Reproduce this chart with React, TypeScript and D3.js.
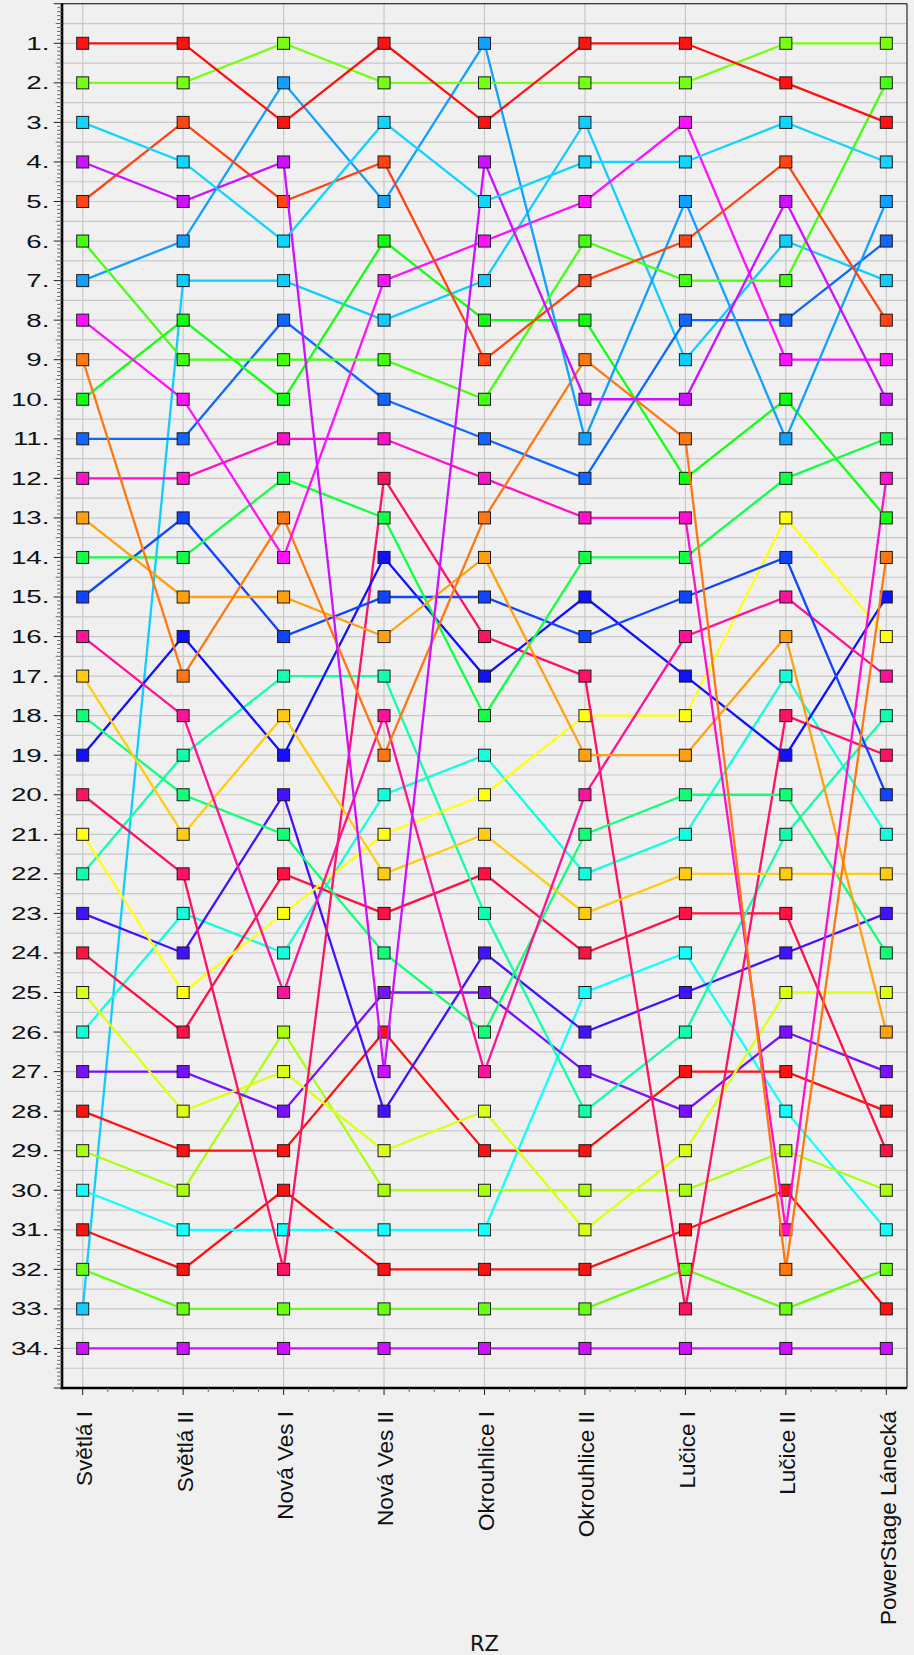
import React from 'react';
import * as d3 from 'd3';

const stages = ['Světlá I', 'Světlá II', 'Nová Ves I', 'Nová Ves II', 'Okrouhlice I', 'Okrouhlice II', 'Lučice I', 'Lučice II', 'PowerStage Lánecká'];

// rank of each crew at every stage (one row per crew)
const ranks: number[][] = [
  [1, 1, 3, 1, 3, 1, 1, 2, 3],
  [2, 2, 1, 2, 2, 2, 2, 1, 1],
  [3, 4, 6, 3, 5, 4, 4, 3, 4],
  [4, 5, 4, 27, 4, 10, 10, 5, 10],
  [5, 3, 5, 4, 9, 7, 6, 4, 8],
  [6, 9, 9, 9, 10, 6, 7, 7, 2],
  [7, 6, 2, 5, 1, 11, 5, 11, 5],
  [8, 10, 14, 7, 6, 5, 3, 9, 9],
  [9, 17, 13, 19, 13, 9, 11, 32, 14],
  [10, 8, 10, 6, 8, 8, 12, 10, 13],
  [11, 11, 8, 10, 11, 12, 8, 8, 6],
  [12, 12, 11, 11, 12, 13, 13, 31, 12],
  [13, 15, 15, 16, 14, 19, 19, 16, 26],
  [14, 14, 12, 13, 18, 14, 14, 12, 11],
  [15, 13, 16, 15, 15, 16, 15, 14, 20],
  [16, 18, 25, 18, 27, 20, 16, 15, 17],
  [17, 21, 18, 22, 21, 23, 22, 22, 22],
  [18, 20, 21, 24, 26, 21, 20, 20, 24],
  [19, 16, 19, 14, 17, 15, 17, 19, 15],
  [20, 22, 32, 12, 16, 17, 33, 18, 19],
  [21, 25, 23, 21, 20, 18, 18, 13, 16],
  [22, 19, 17, 17, 23, 28, 26, 21, 18],
  [23, 24, 20, 28, 24, 26, 25, 24, 23],
  [24, 26, 22, 23, 22, 24, 23, 23, 29],
  [25, 28, 27, 29, 28, 31, 29, 25, 25],
  [26, 23, 24, 20, 19, 22, 21, 17, 21],
  [27, 27, 28, 25, 25, 27, 28, 26, 27],
  [28, 29, 29, 26, 29, 29, 27, 27, 28],
  [29, 30, 26, 30, 30, 30, 30, 29, 30],
  [30, 31, 31, 31, 31, 25, 24, 28, 31],
  [31, 32, 30, 32, 32, 32, 31, 30, 33],
  [32, 33, 33, 33, 33, 33, 32, 33, 32],
  [33, 7, 7, 8, 7, 3, 9, 6, 7],
  [34, 34, 34, 34, 34, 34, 34, 34, 34],
];

const colors = [
  '#ff1111', '#77ff11', '#11d4ff', '#cc11ff', '#ff4411', '#44ff11', '#11a0ff', '#ff11ff',
  '#ff7711', '#11ff11', '#1166ff', '#ff11cc', '#ffa011', '#11ff44', '#1144ff', '#ff1199',
  '#ffcc11', '#11ff77', '#1111ff', '#ff1166', '#ffff11', '#11ffaa', '#4411ff', '#ff1144',
  '#ddff11', '#11ffdd', '#7711ff', '#ff1111', '#aaff11', '#11ffff', '#ff1111', '#66ff11',
  '#11ccff', '#cc11ff',
];

const rankTicks = d3.range(1, 35);
const axisTitle = 'RZ';

export default function App() {
  const W = 914, H = 1655;
  const left = 62, right = 907;
  const x = d3.scalePoint<string>().domain(stages).range([left, right]).padding(0.206);
  const y = d3.scaleLinear().domain([0, 35]).range([3.75, 1388]);
  const top = y(0), bottom = y(35);
  const step = x.step();

  const line = d3.line<number>()
    .x((_, i) => x(stages[i]) as number)
    .y((r) => y(r));

  const halfGrid = d3.range(0.5, 35, 0.5);
  const minorY = d3.range(0, 351).map((v) => v / 10);
  const minorX: number[] = [];
  stages.forEach((s, i) => {
    if (i < stages.length - 1) {
      for (let k = 1; k < 4; k++) minorX.push((x(s) as number) + (step * k) / 4);
    }
  });

  const order = d3.range(ranks.length).reverse();
  const font = '"Liberation Sans", Arial, sans-serif';

  return (
    <svg width={W} height={H} style={{ position: 'absolute', left: 0, top: 0, display: 'block' }}>
      <rect x={0} y={0} width={W} height={H} fill="#f0f0f0" />
      {/* grid */}
      <g stroke="#c8c8c8" strokeWidth={1.2}>
        {halfGrid.map((g) => (
          <line key={'h' + g} x1={left} x2={right} y1={y(g)} y2={y(g)} />
        ))}
        {stages.map((s) => (
          <line key={'v' + s} x1={x(s)} x2={x(s)} y1={top} y2={bottom} />
        ))}
      </g>
      {/* series */}
      {order.map((i) => (
        <g key={'s' + i}>
          <path d={line(ranks[i]) as string} fill="none" stroke={colors[i]} strokeWidth={2.3} />
          {ranks[i].map((r, j) => (
            <rect
              key={j}
              x={(x(stages[j]) as number) - 6}
              y={y(r) - 6}
              width={12}
              height={12}
              fill={colors[i]}
              stroke="#1a1a1a"
              strokeWidth={1}
            />
          ))}
        </g>
      ))}
      {/* frame */}
      <line x1={left} x2={right} y1={top} y2={top} stroke="#000" strokeWidth={1} />
      <line x1={right} x2={right} y1={top} y2={bottom} stroke="#000" strokeWidth={1} />
      <line x1={left} x2={left} y1={top - 0.5} y2={bottom + 1.2} stroke="#000" strokeWidth={2.6} />
      <line x1={left - 1.3} x2={right} y1={bottom} y2={bottom} stroke="#000" strokeWidth={2.6} />
      {/* y ticks */}
      <g>
        {minorY.map((v, k) => {
          const isMajor = k % 10 === 0;
          const isHalf = k % 5 === 0;
          const len = isMajor ? 7 : isHalf ? 5 : 3.5;
          return (
            <line key={'yt' + k} x1={left - 1.3 - len} x2={left} y1={y(v)} y2={y(v)}
              stroke={isMajor ? '#222' : '#666'} strokeWidth={1} />
          );
        })}
      </g>
      {rankTicks.map((r) => (
        <text key={'yl' + r} transform={`translate(49.5,${y(r)}) scale(1.5,1)`} textAnchor="end" dy="0.35em"
          fontFamily={font} fontSize={18.5} fill="#111">{r + '.'}</text>
      ))}
      {/* x ticks */}
      {stages.map((s) => (
        <line key={'xt' + s} x1={x(s)} x2={x(s)} y1={bottom} y2={bottom + 7} stroke="#222" strokeWidth={1} />
      ))}
      {minorX.map((v, k) => (
        <line key={'xm' + k} x1={v} x2={v} y1={bottom} y2={bottom + 4} stroke="#666" strokeWidth={1} />
      ))}
      {stages.map((s) => (
        <text key={'xl' + s} transform={`translate(${(x(s) as number) + 1.5},1411) rotate(-90)`}
          textAnchor="end" dy="0.35em" fontFamily={font} fontSize={22.5} fill="#111">{s}</text>
      ))}
      <text x={(left + right) / 2} y={1651} textAnchor="middle" fontFamily='"DejaVu Sans", sans-serif'
        fontSize={21} fill="#111">{axisTitle}</text>
    </svg>
  );
}
